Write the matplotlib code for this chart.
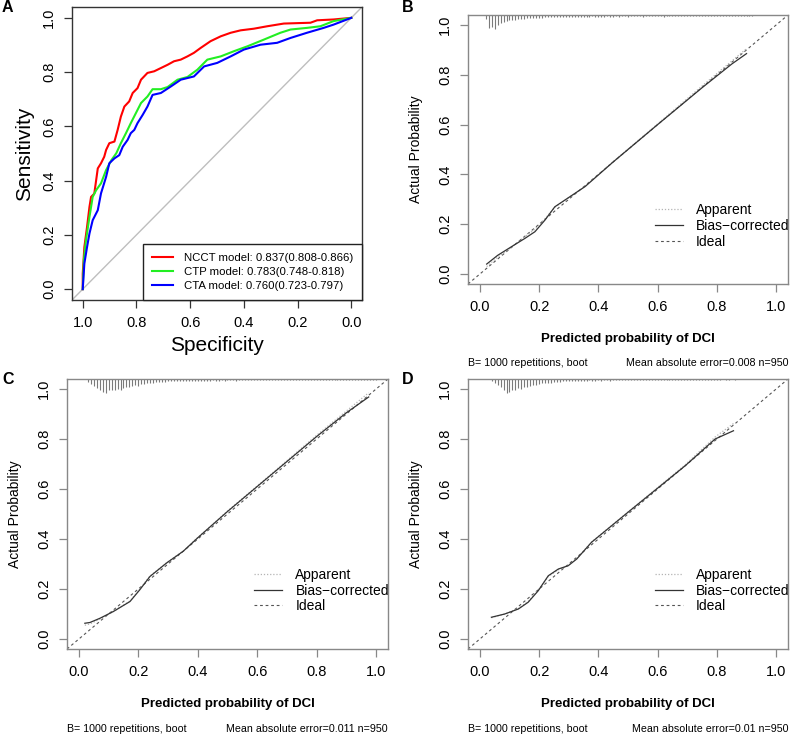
#!/usr/bin/env python3

import numpy as np
import matplotlib
matplotlib.use("Agg")
import matplotlib.pyplot as plt

plt.rcParams['font.family'] = ['Liberation Sans', 'DejaVu Sans']

# ---- panel A: ROC curves (specificity, sensitivity) ----
roc_labels = ["NCCT model: 0.837(0.808-0.866)",
              "CTP model: 0.783(0.748-0.818)",
              "CTA model: 0.760(0.723-0.797)"]
roc_colors = ["#FF0000", "#22EE22", "#0000FF"]

ncct_spec = [1.0, 1.0, 0.994, 0.984, 0.975, 0.969, 0.957, 0.95, 0.944, 0.932, 0.92,
             0.913, 0.901, 0.882, 0.870, 0.858, 0.845, 0.827, 0.814, 0.796, 0.783,
             0.759, 0.734, 0.709, 0.684, 0.660, 0.635, 0.610, 0.586, 0.561, 0.524,
             0.486, 0.449, 0.412, 0.363, 0.313, 0.251, 0.152, 0.127, 0.066, 0.0]
ncct_sens = [0.0, 0.057, 0.155, 0.229, 0.303, 0.340, 0.352, 0.402, 0.445, 0.464, 0.488,
             0.513, 0.538, 0.544, 0.587, 0.636, 0.673, 0.692, 0.723, 0.741, 0.772,
             0.797, 0.803, 0.815, 0.827, 0.840, 0.846, 0.858, 0.871, 0.889, 0.914,
             0.932, 0.945, 0.954, 0.960, 0.969, 0.979, 0.982, 0.991, 0.994, 1.0]

ctp_spec = [1.0, 0.996, 0.988, 0.975, 0.963, 0.950, 0.932, 0.913, 0.893, 0.875, 0.858,
            0.839, 0.821, 0.802, 0.783, 0.759, 0.740, 0.709, 0.684, 0.647, 0.610,
            0.573, 0.536, 0.486, 0.437, 0.387, 0.325, 0.264, 0.226, 0.165, 0.115,
            0.066, 0.0]
ctp_sens = [0.0, 0.106, 0.180, 0.266, 0.340, 0.365, 0.390, 0.439, 0.476, 0.501, 0.538,
            0.575, 0.612, 0.649, 0.686, 0.710, 0.737, 0.737, 0.745, 0.772, 0.782,
            0.809, 0.846, 0.858, 0.877, 0.895, 0.920, 0.945, 0.957, 0.963, 0.969,
            0.988, 1.0]

cta_spec = [1.0, 0.994, 0.984, 0.975, 0.963, 0.944, 0.932, 0.913, 0.901, 0.882, 0.864,
            0.851, 0.833, 0.821, 0.808, 0.796, 0.777, 0.759, 0.740, 0.709, 0.672,
            0.635, 0.586, 0.548, 0.499, 0.449, 0.400, 0.338, 0.276, 0.226, 0.165,
            0.103, 0.066, 0.0]
cta_sens = [0.0, 0.094, 0.155, 0.205, 0.254, 0.291, 0.353, 0.414, 0.464, 0.482, 0.494,
            0.525, 0.550, 0.575, 0.587, 0.612, 0.642, 0.673, 0.716, 0.723, 0.747,
            0.772, 0.784, 0.821, 0.834, 0.858, 0.883, 0.901, 0.908, 0.926, 0.945,
            0.963, 0.975, 1.0]

ticks = [0.0, 0.2, 0.4, 0.6, 0.8, 1.0]

# ---- panels B, C, D: calibration curves ----
cal_legend = ["Apparent", "Bias\u2212corrected", "Ideal"]

b_pred = [0.023, 0.06, 0.107, 0.152, 0.186, 0.22, 0.253, 0.287, 0.355, 0.45, 0.6, 0.75, 0.85, 0.9]
b_bias = [0.040, 0.075, 0.110, 0.143, 0.170, 0.217, 0.270, 0.297, 0.351, 0.45, 0.6, 0.748, 0.843, 0.885]
b_app = [0.030, 0.068, 0.108, 0.150, 0.180, 0.222, 0.268, 0.296, 0.352, 0.452, 0.603, 0.755, 0.855, 0.905]

c_pred = [0.02, 0.037, 0.071, 0.116, 0.172, 0.205, 0.239, 0.295, 0.351, 0.40, 0.5, 0.65, 0.8, 0.9, 0.975]
c_bias = [0.063, 0.066, 0.083, 0.110, 0.150, 0.197, 0.250, 0.304, 0.351, 0.405, 0.51, 0.66, 0.81, 0.905, 0.968]
c_app = [0.055, 0.060, 0.080, 0.110, 0.152, 0.200, 0.252, 0.305, 0.352, 0.406, 0.512, 0.663, 0.815, 0.912, 0.985]

d_pred = [0.039, 0.084, 0.13, 0.163, 0.197, 0.231, 0.265, 0.298, 0.327, 0.377, 0.5, 0.693, 0.794, 0.856]
d_bias = [0.087, 0.100, 0.12, 0.147, 0.193, 0.253, 0.28, 0.293, 0.32, 0.387, 0.507, 0.693, 0.8, 0.833]
d_app = [0.085, 0.100, 0.122, 0.150, 0.196, 0.250, 0.277, 0.293, 0.322, 0.388, 0.508, 0.697, 0.808, 0.862]

b_mae = "Mean absolute error=0.008 n=950"
c_mae = "Mean absolute error=0.011 n=950"
d_mae = "Mean absolute error=0.01 n=950"
sub_left = "B= 1000 repetitions, boot"

# rug of predicted probabilities (relative counts in 0.01 bins)
b_rug_start = 0.02
b_rug = [12, 38, 34, 40, 30, 24, 20, 17, 15, 14, 13, 12, 11, 11, 10, 10, 9, 9, 8, 8,
         7, 7, 7, 6, 6, 6, 6, 6, 5,
         5, 6, 5, 5, 6, 5, 5, 4, 5, 5, 6, 5, 4, 5, 5,
         4, 5, 4, 4, 5, 4, 4, 3, 4, 5, 4, 4, 3, 4, 4, 4, 5, 4, 3, 4, 4, 3, 4, 4, 3,
         3, 4, 3, 3, 2, 3, 4, 3, 3, 2, 3, 3, 3, 2, 3, 3, 2, 3, 2, 2, 2, 2]
c_rug_start = 0.03
c_rug = [8, 14, 20, 26, 30, 36, 40, 32, 30, 30, 28, 30, 26, 24, 22, 20, 18, 20, 15, 13,
         12, 11, 10, 9, 9, 8, 8, 7,
         7, 6, 7, 6, 6, 6, 5, 6, 5, 5, 6, 5, 5, 5, 4, 5, 5, 4, 5, 4,
         4, 4, 5, 4, 4, 3, 4, 4, 3, 4, 4, 3, 4, 3, 3, 4, 3, 3, 4, 3, 3, 3, 3, 4, 3,
         3, 3, 2, 3, 3, 3, 2, 3, 3, 2, 3, 2, 3, 2, 2, 3, 2, 2, 2, 3, 2, 2, 2, 2, 2]
d_rug_start = 0.04
d_rug = [6, 10, 16, 24, 32, 40, 36, 30, 30, 26, 28, 24, 22, 20, 18, 16, 14, 12, 12, 10,
         10, 9, 8, 8, 7, 7, 6,
         6, 5, 6, 5, 5, 5, 4, 5, 5, 4, 5, 4, 4, 5, 4, 4, 3, 4, 4, 3,
         4, 3, 3, 4, 3, 3, 3, 4, 3, 3, 2, 3, 3, 3, 2, 3, 3, 2, 3, 2, 2, 3, 2, 2, 2, 3,
         2, 2, 2, 2, 2, 1, 2, 2, 1, 2]

W, H = 790, 736


def px_axes(fig, left, top, right, bottom):
    return fig.add_axes([left / W, 1 - bottom / H, (right - left) / W, (bottom - top) / H])


def style_axes(ax, edge):
    for s in ax.spines.values():
        s.set_color(edge)
        s.set_linewidth(1.0)
    ax.tick_params(direction='out', length=5.5, width=0.9, color=edge,
                   labelsize=10.5, pad=6)
    ax.tick_params(axis='y', labelrotation=90)
    for lab in ax.get_yticklabels():
        lab.set_va('center')


def roc_panel(ax):
    ax.axline((1, 0), (0, 1), color="#BEBEBE", lw=1.0, zorder=1)
    for spec, sens, col, lab in zip([ncct_spec, ctp_spec, cta_spec],
                                    [ncct_sens, ctp_sens, cta_sens],
                                    roc_colors, roc_labels):
        ax.plot(spec, sens, color=col, lw=1.5, label=lab, zorder=3)
    ax.set_xlim(1.04, -0.04)
    ax.set_ylim(-0.04, 1.04)
    ax.set_xticks(ticks)
    ax.set_yticks(ticks)
    ax.set_xticklabels([f"{t:.1f}" for t in ticks])
    ax.set_yticklabels([f"{t:.1f}" for t in ticks])
    style_axes(ax, "#333333")
    ax.set_xlabel("Specificity", fontsize=15, labelpad=4)
    ax.set_ylabel("Sensitivity", fontsize=15, labelpad=6)
    leg = ax.legend(loc='lower right', borderaxespad=0, fontsize=8.2,
                    handlelength=1.9, handletextpad=0.9, labelspacing=0.35,
                    borderpad=0.8, fancybox=False, framealpha=1)
    leg.get_frame().set_edgecolor("#222222")
    leg.get_frame().set_linewidth(1.0)


def cal_panel(ax, pred, bias, app, rug_start, rug, sub_right):
    # rug at the top
    rug = np.array(rug, dtype=float)
    xs = rug_start + 0.01 * np.arange(len(rug))
    top = 1.04
    ax.vlines(xs, top - 0.056 * rug / rug.max(), top, color="#7a7a7a", lw=0.8, zorder=2)

    ax.axline((0, 0), (1, 1), color="#555555", lw=0.8, ls=(0, (2.5, 2.5)), zorder=1)
    ax.plot(pred, app, color="#B4B4B4", lw=0.9, ls=(0, (1, 1.5)), zorder=2)
    ax.plot(pred, bias, color="#333333", lw=0.9, zorder=3)

    ax.set_xlim(-0.04, 1.04)
    ax.set_ylim(-0.04, 1.04)
    ax.set_xticks(ticks)
    ax.set_yticks(ticks)
    ax.set_xticklabels([f"{t:.1f}" for t in ticks])
    ax.set_yticklabels([f"{t:.1f}" for t in ticks])
    style_axes(ax, "#888888")
    ax.set_xlabel("Predicted probability of DCI", fontsize=9.5, fontweight='bold',
                  labelpad=14)
    ax.set_ylabel("Actual Probability", fontsize=10, labelpad=11)

    h_app, = ax.plot([], [], color="#B4B4B4", lw=0.9, ls=(0, (1, 1.5)))
    h_bias, = ax.plot([], [], color="#333333", lw=0.9)
    h_ideal, = ax.plot([], [], color="#555555", lw=0.8, ls=(0, (2.5, 2.5)))
    ax.legend([h_app, h_bias, h_ideal], cal_legend, loc='upper left',
              bbox_to_anchor=(0.584, 0.30), borderaxespad=0, borderpad=0,
              frameon=False, fontsize=10, handlelength=2.0, handletextpad=0.95,
              labelspacing=0.12)

    ax.text(0, -0.295, sub_left, transform=ax.transAxes, fontsize=7.7,
            ha='left', va='center')
    ax.text(1, -0.295, sub_right, transform=ax.transAxes, fontsize=7.7,
            ha='right', va='center')


def main():
    fig = plt.figure(figsize=(W / 100, H / 100), dpi=100)

    ax_a = px_axes(fig, 72, 7, 362, 300)
    ax_b = px_axes(fig, 468, 15, 788, 284)
    ax_c = px_axes(fig, 67, 379, 388, 649)
    ax_d = px_axes(fig, 468, 379, 788, 649)

    roc_panel(ax_a)
    cal_panel(ax_b, b_pred, b_bias, b_app, b_rug_start, b_rug, b_mae)
    cal_panel(ax_c, c_pred, c_bias, c_app, c_rug_start, c_rug, c_mae)
    cal_panel(ax_d, d_pred, d_bias, d_app, d_rug_start, d_rug, d_mae)

    for lab, x, y in [("A", 2, 8), ("B", 402, 8), ("C", 2, 380), ("D", 402, 380)]:
        fig.text(x / W, 1 - y / H, lab, fontsize=11.5, fontweight='bold',
                 ha='left', va='center')

    fig.savefig("out.png", dpi=100)


if __name__ == "__main__":
    main()
